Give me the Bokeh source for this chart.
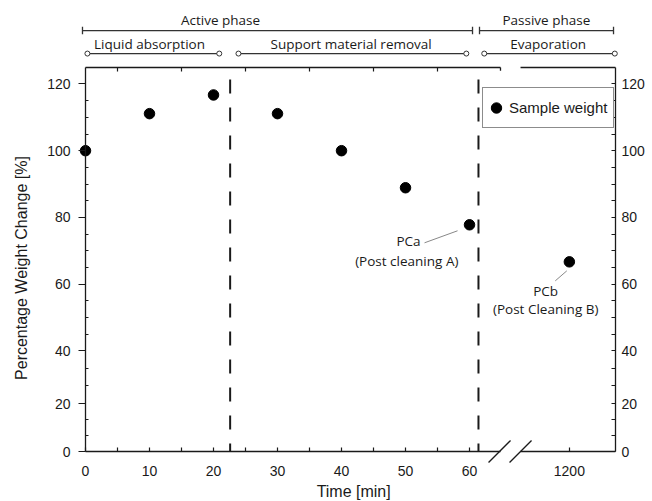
import math
import numpy as np
from bokeh.plotting import figure
from bokeh.models import Range1d, LinearAxis, FixedTicker, Legend, LegendItem, ColumnDataSource
from bokeh.core.properties import value
from bokeh.embed import file_html
from bokeh.resources import INLINE

# ---------------- data ----------------
time_min = [0, 10, 20, 30, 40, 50, 60, 1200]
weight_pct = [100.0, 111.1, 116.7, 111.1, 100.0, 88.9, 77.8, 66.7]
x_major_ticks = [0, 10, 20, 30, 40, 50, 60, 1200]
x_minor_ticks = [5, 15, 25, 35, 45, 55]
top_ticks = [5, 15, 25, 35, 45, 55]
y_major_ticks = [0, 20, 40, 60, 80, 100, 120]
y_minor_ticks = [20 / 3, 40 / 3, 20 + 20 / 3, 20 + 40 / 3,
                 45, 50, 55, 65, 70, 75, 85, 90, 95, 105, 110, 115]
phase_boundaries = [22.6, 61.4]
phase_names = ["Active phase", "Passive phase"]
step_names = ["Liquid absorption", "Support material removal", "Evaporation"]
legend_label = "Sample weight"
x_title = "Time [min]"
y_title = "Percentage Weight Change [%]"
pc_labels = [("PCa", "(Post cleaning  A)"), ("PCb", "(Post Cleaning B)")]

# ---------------- broken / uneven axes of the original ----------------
LATE_OFFSET = 1124.4          # 1200 min is drawn after the axis break
def xm(t):
    return t if t < 100 else t - LATE_OFFSET

# below 40 % the original axis is drawn compressed
Y_LOW_VALS = [0.0, 20.0, 40.0]
Y_LOW_POS = [9.87, 24.25, 40.0]
def ym(v):
    return float(v) if v >= 40 else float(np.interp(v, Y_LOW_VALS, Y_LOW_POS))

X_RIGHT = 82.8
Y_BOT = ym(0)
Y_TOP = 124.93
BREAK_L, BREAK_R = 64.84, 67.97

INK = "#1a1a1a"
TICK_FONT = "Liberation Sans"
ANN_FONT = "Open Sans"

p = figure(width=652, height=501,
           x_range=Range1d(-13.28, 88.59), y_range=Range1d(-5.11, 145.0),
           x_axis_type=None, y_axis_type=None,
           output_backend="svg", toolbar_location=None,
           min_border=0, outline_line_color=None)
p.min_border_left = p.min_border_right = p.min_border_top = p.min_border_bottom = 0


def style_axis(ax):
    ax.major_label_text_font = TICK_FONT
    ax.major_label_text_font_size = "14px"
    ax.major_label_text_color = INK
    ax.axis_line_color = INK
    ax.axis_line_width = 1.3
    ax.major_tick_line_color = INK
    ax.minor_tick_line_color = INK
    ax.major_tick_line_width = 1.2
    ax.minor_tick_line_width = 1.2


y_tick_pos = [ym(v) for v in y_major_ticks]
y_minor_pos = [ym(v) for v in y_minor_ticks]
y_over = {ym(v): str(v) for v in y_major_ticks}

# left axis
yl = LinearAxis(fixed_location=0, bounds=(Y_BOT, Y_TOP),
                ticker=FixedTicker(ticks=y_tick_pos, minor_ticks=y_minor_pos),
                major_label_overrides=y_over)
style_axis(yl)
yl.major_tick_out = 7
yl.major_tick_in = 0
yl.minor_tick_in = 3
yl.minor_tick_out = 0
yl.major_label_standoff = 8
p.add_layout(yl, "left")

# right axis
yr = LinearAxis(fixed_location=X_RIGHT, bounds=(Y_BOT, Y_TOP),
                ticker=FixedTicker(ticks=y_tick_pos, minor_ticks=y_minor_pos),
                major_label_overrides=y_over)
style_axis(yr)
yr.major_tick_out = 0
yr.major_tick_in = 4
yr.minor_tick_in = 4
yr.minor_tick_out = 0
yr.major_label_standoff = 6
p.add_layout(yr, "right")

# bottom axis
x_tick_pos = [xm(t) for t in x_major_ticks]
xb = LinearAxis(fixed_location=Y_BOT, bounds=(0, X_RIGHT),
                ticker=FixedTicker(ticks=x_tick_pos, minor_ticks=[xm(t) for t in x_minor_ticks]),
                major_label_overrides={xm(t): str(t) for t in x_major_ticks})
style_axis(xb)
xb.axis_line_color = None
xb.major_tick_out = 0
xb.major_tick_in = 4
xb.minor_tick_in = 4
xb.minor_tick_out = 0
xb.major_label_standoff = 14
p.add_layout(xb, "below")

# top axis (ticks only)
xt = LinearAxis(fixed_location=Y_TOP, bounds=(0, X_RIGHT),
                ticker=FixedTicker(ticks=[xm(t) for t in top_ticks], minor_ticks=[]))
style_axis(xt)
xt.axis_line_color = None
xt.major_tick_out = 0
xt.major_tick_in = 4
xt.major_label_text_font_size = "0px"
xt.major_label_text_color = None
p.add_layout(xt, "above")

# frame lines with the break gap
p.segment(x0=[0, BREAK_R, 0, BREAK_R, BREAK_L], y0=[Y_BOT, Y_BOT, Y_TOP, Y_TOP, Y_TOP],
          x1=[BREAK_L, X_RIGHT, BREAK_L, X_RIGHT, BREAK_L], y1=[Y_BOT, Y_BOT, Y_TOP, Y_TOP, Y_TOP - 1.0],
          line_color=INK, line_width=1.3)
# break marks
p.segment(x0=[BREAK_L - 1.87, BREAK_R - 1.72], y0=[Y_BOT - 3.3, Y_BOT - 3.3],
          x1=[BREAK_L + 1.57, BREAK_R + 1.72], y1=[Y_BOT + 3.3, Y_BOT + 3.3],
          line_color=INK, line_width=1.3)

# phase boundaries
p.segment(x0=phase_boundaries, y0=[Y_BOT] * 2, x1=phase_boundaries, y1=[Y_TOP] * 2,
          line_color=INK, line_width=2, line_dash="14 14", line_dash_offset=6)

# data
src = ColumnDataSource(dict(x=[xm(t) for t in time_min], y=[ym(v) for v in weight_pct]))
pts = p.scatter("x", "y", source=src, size=10.5, color="black")

leg = Legend(items=[LegendItem(label=legend_label, renderers=[pts])],
             location=(482, 373), orientation="vertical",
             padding=0, spacing=0, margin=0, label_standoff=0,
             glyph_width=26, glyph_height=39, label_height=39, label_width=104,
             label_text_font=TICK_FONT, label_text_font_size="15px", label_text_color=INK,
             border_line_color=INK, border_line_width=1, background_fill_alpha=1)
p.add_layout(leg)

# ---- phase annotations above the frame ----
ROW1_LINE, ROW1_TEXT = 136.0, 139.3
ROW2_LINE, ROW2_TEXT = 129.1, 132.1
phase_spans = [(-0.47, 60.47), (61.56, 82.5)]
phase_text_x = [21.1, 72.0]
step_spans = [(0.3, 20.9), (23.9, 59.5), (62.3, 82.7)]
step_text_x = [10.0, 41.5, 72.3]

p.segment(x0=[a for a, b in phase_spans], y0=[ROW1_LINE] * 2,
          x1=[b for a, b in phase_spans], y1=[ROW1_LINE] * 2, line_color="#333333", line_width=1.3)
ends = [e for s in phase_spans for e in s]
p.segment(x0=ends, y0=[ROW1_LINE - 1.1] * 4, x1=ends, y1=[ROW1_LINE + 1.1] * 4,
          line_color="#333333", line_width=1.3)
p.text(x=phase_text_x, y=[ROW1_TEXT] * 2, text=phase_names,
       text_font=value(ANN_FONT), text_font_size=value("13.5px"), text_color=INK,
       text_align="center", text_baseline="middle")

p.segment(x0=[a for a, b in step_spans], y0=[ROW2_LINE] * 3,
          x1=[b for a, b in step_spans], y1=[ROW2_LINE] * 3, line_color="#333333", line_width=1.3)
sends = [e for s in step_spans for e in s]
p.scatter(x=sends, y=[ROW2_LINE] * 6, size=5, marker="circle",
          fill_color="white", line_color="#333333", line_width=1)
p.text(x=step_text_x, y=[ROW2_TEXT] * 3, text=step_names,
       text_font=value(ANN_FONT), text_font_size=value("13.5px"), text_color=INK,
       text_align="center", text_baseline="middle")

# ---- point callouts ----
pc_x = [50.47, 71.9]
pc_y1 = [72.8, 58.1]
pc_y2 = [66.8, 52.7]
p.text(x=pc_x, y=pc_y1, text=[a for a, b in pc_labels],
       text_font=value(ANN_FONT), text_font_size=value("13.5px"), text_color=INK,
       text_align="center", text_baseline="middle")
p.text(x=pc_x, y=pc_y2, text=[b for a, b in pc_labels],
       text_font=value(ANN_FONT), text_font_size=value("13.5px"), text_color=INK,
       text_align="center", text_baseline="middle")
p.segment(x0=[52.97, 73.4], y0=[72.4, 61.0], x1=[58.13, 75.2], y1=[76.0, 64.0],
          line_color="#888888", line_width=1)

# ---- axis titles ----
p.text(x=[41.9], y=[-2.1], text=[x_title], text_font=value(TICK_FONT),
       text_font_size=value("16px"), text_color=INK, text_align="center", text_baseline="middle")
p.text(x=[-10.0], y=[64.85], text=[y_title], text_font=value(TICK_FONT), angle=math.pi / 2,
       text_font_size=value("16px"), text_color=INK, text_align="center", text_baseline="middle")

open("out.html", "w").write(file_html(p, INLINE))
